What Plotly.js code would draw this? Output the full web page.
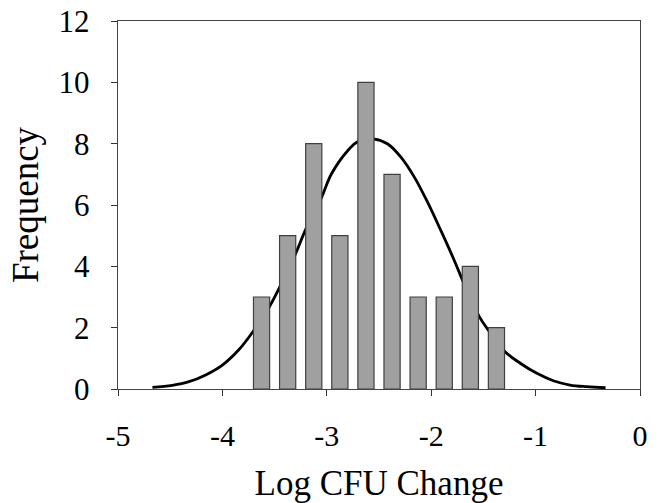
<!DOCTYPE html>
<html>
<head>
<meta charset="utf-8">
<script src="https://cdn.plot.ly/plotly-3.0.1.min.js"></script>
<style>html,body{margin:0;padding:0;background:#fff;}#chart{width:666px;height:503px;}</style>
</head>
<body>
<div id="chart"></div>
<script>
// Histogram bins (centres) and counts
const binCenters = [-3.625, -3.375, -3.125, -2.875, -2.625, -2.375, -2.125, -1.875, -1.625, -1.375];
const frequency = [3, 5, 8, 5, 10, 7, 3, 3, 4, 2];

// Fitted curve, points
const curveX = [-4.67, -4.48, -4.32, -4.16, -4.0, -3.845, -3.72, -3.55, -3.45, -3.305, -3.2, -3.05, -2.956, -2.8, -2.70, -2.545, -2.416, -2.29, -2.16, -2.035, -1.908, -1.78, -1.686, -1.538, -1.44, -1.29, -1.147, -0.988, -0.83, -0.67, -0.51, -0.33];
const curveY = [0.05, 0.12, 0.24, 0.46, 0.78, 1.27, 1.81, 2.68, 3.33, 4.36, 5.22, 6.25, 7.01, 7.77, 8.07, 8.15, 7.99, 7.56, 6.9, 6.09, 5.17, 4.2, 3.44, 2.35, 1.86, 1.21, 0.84, 0.51, 0.27, 0.13, 0.075, 0.04];

const xTicks = [-5, -4, -3, -2, -1, 0];
const yTicks = [0, 2, 4, 6, 8, 10, 12];
const xRange = [-5, 0];
const yRange = [0, 12];

const font = "Liberation Serif, Times New Roman, serif";

const traces = [
  {
    type: 'scatter', mode: 'lines', x: curveX, y: curveY,
    xaxis: 'x', yaxis: 'y',
    line: {color: '#000', width: 2.8, shape: 'spline', smoothing: 1},
    hoverinfo: 'skip', showlegend: false
  },
  {
    // drawn on an overlaid (identical) subplot so the bars sit above the curve
    type: 'bar', x: binCenters, y: frequency, width: 0.155,
    xaxis: 'x2', yaxis: 'y2',
    marker: {color: '#a0a0a0', line: {color: '#404040', width: 1.2}},
    showlegend: false
  }
];

const layout = {
  width: 666, height: 503,
  margin: {l: 118, r: 26, t: 21, b: 114, pad: 0},
  paper_bgcolor: '#fff', plot_bgcolor: '#fff',
  font: {family: font, color: '#000'},
  xaxis: {
    range: xRange, tickvals: xTicks, ticktext: xTicks.map(String),
    ticks: 'outside', ticklen: 6, tickwidth: 1, tickcolor: '#333',
    showline: true, linecolor: '#444', linewidth: 1.3, mirror: true,
    showgrid: false, zeroline: false,
    tickfont: {family: font, size: 30, color: '#000'},
    ticklabelstandoff: 14,
    title: {text: 'Log CFU Change', font: {family: font, size: 35, color: '#000'}, standoff: 22},
    automargin: false
  },
  yaxis: {
    range: yRange, tickvals: yTicks, ticktext: yTicks.map(String),
    ticks: 'outside', ticklen: 6, tickwidth: 1, tickcolor: '#333',
    showline: true, linecolor: '#444', linewidth: 1.3, mirror: true,
    showgrid: false, zeroline: false,
    tickfont: {family: font, size: 31, color: '#000'},
    ticklabelstandoff: 15,
    title: {text: 'Frequency', font: {family: font, size: 37, color: '#000'}, standoff: 8},
    automargin: false
  },
  xaxis2: {range: xRange, overlaying: 'x', visible: false, fixedrange: true},
  yaxis2: {range: yRange, overlaying: 'y', visible: false, fixedrange: true},
  bargap: 0
};

Plotly.newPlot('chart', traces, layout, {staticPlot: true, displayModeBar: false});
</script>
</body>
</html>
